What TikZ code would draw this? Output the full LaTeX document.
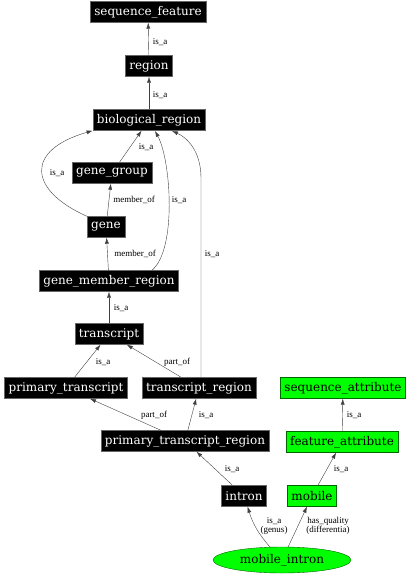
\documentclass[tikz,border=0pt]{standalone}
\usepackage{fontspec}
\setmainfont{DejaVu Serif}
\newfontfamily\lblfont{Liberation Serif}
\usetikzlibrary{arrows.meta,shapes.geometric}

\begin{document}
\begin{tikzpicture}
    [x=1pt,y=-1pt,
     term/.style={rectangle,draw=black!60,fill=black,text=white,
       font=\fontsize{12}{12}\selectfont,minimum height=21pt,
       inner xsep=4pt,inner ysep=0pt},
     attr/.style={term,fill=green,text=black,draw=black!60!green},
     rel/.style={->,>={Latex[length=6pt,width=4pt]},black!75},
     lbl/.style={font=\lblfont\fontsize{9}{9.5}\selectfont,inner sep=0pt,
       align=center,text=black}]
    \useasboundingbox (0,0) rectangle (411,576);

    % terms
    \node (sf)   at (148,12)  [term] {sequence\_feature};
    \node (reg)  at (149,66)  [term] {region};
    \node (br)   at (149,120) [term] {biological\_region};
    \node (gg)   at (112,173) [term] {gene\_group};
    \node (gene) at (106,227) [term] {gene};
    \node (gmr)  at (109,281) [term] {gene\_member\_region};
    \node (tx)   at (109,334) [term] {transcript};
    \node (pt)   at (66,388)  [term] {primary\_transcript};
    \node (tr)   at (199,388) [term] {transcript\_region};
    \node (ptr)  at (185,441) [term] {primary\_transcript\_region};
    \node (intr) at (244,496) [term] {intron};

    % attributes
    \node (sa)   at (343,388) [attr] {sequence\_attribute};
    \node (fa)   at (342,442) [attr] {feature\_attribute};
    \node (mob)  at (312,496) [attr] {mobile};
    \node (mi)   at (282,560) [attr,ellipse,minimum width=138pt,
                               minimum height=26pt,inner sep=0pt] {mobile\_intron};

    % relations
    \draw[rel] (reg) -- (sf) node[lbl,at={(160,42)}] {is\_a};
    \draw[rel] (br) -- (reg) node[lbl,at={(160,95)}] {is\_a};
    \draw[rel] (gg) -- (br) node[lbl,at={(146,147)}] {is\_a};
    \draw[rel] (gene.north west) .. controls (28,190) and (25,150) .. (br.south west)
      node[lbl,at={(57,173)}] {is\_a};
    \draw[rel] (gene) -- (gg) node[lbl,at={(134,200)}] {member\_of};
    \draw[rel] (gmr) -- (gene) node[lbl,at={(135,254)}] {member\_of};
    \draw[rel] (gmr.north east) ++(-27,0) .. controls (177,250) and (171,160) .. (155,131)
      node[lbl,at={(179,200)}] {is\_a};
    \draw[rel] (tr.north) ++(2,0) -- (201,178) .. controls (201,150) and (186,137) .. (172,131)
      node[lbl,at={(212,254)}] {is\_a};
    \draw[rel] (tx) -- (gmr) node[lbl,at={(121,308)}] {is\_a};
    \draw[rel] (pt) -- (tx) node[lbl,at={(103,362)}] {is\_a};
    \draw[rel] (tr) -- (tx) node[lbl,at={(177,362)}] {part\_of};
    \draw[rel] (ptr) -- (pt) node[lbl,at={(154,415)}] {part\_of};
    \draw[rel] (ptr) -- (tr) node[lbl,at={(206,415)}] {is\_a};
    \draw[rel] (intr) -- (ptr) node[lbl,at={(232,469)}] {is\_a};
    \draw[rel] (mi) to[bend left=12] (intr)
      node[lbl,at={(274,526)}] {is\_a\\(genus)};
    \draw[rel] (mi) -- (mob)
      node[lbl,at={(328,526)}] {has\_quality\\(differentia)};
    \draw[rel] (mob) -- (fa) node[lbl,at={(341,469)}] {is\_a};
    \draw[rel] (fa) -- (sa) node[lbl,at={(354,415)}] {is\_a};
\end{tikzpicture}
\end{document}
